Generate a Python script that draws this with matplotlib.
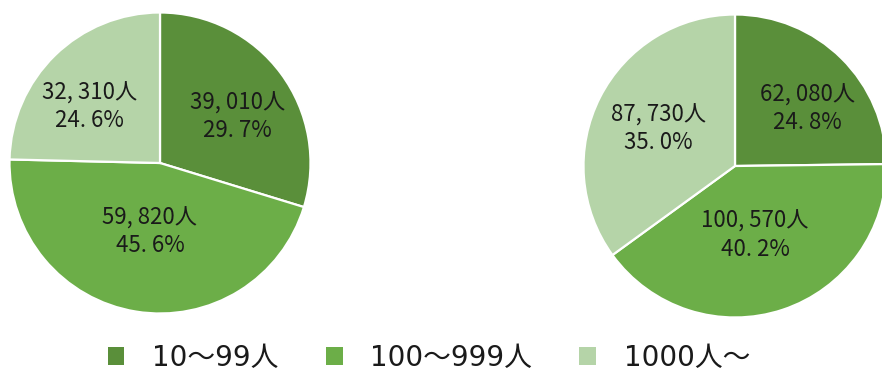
import numpy as np
import matplotlib
matplotlib.use("Agg")
import matplotlib.pyplot as plt
import matplotlib.patches as mpatches

plt.rcParams['font.family'] = ['Noto Sans CJK JP', 'DejaVu Sans']
label_font = ['Noto Sans CJK JP', 'DejaVu Sans']
legend_font = ['DejaVu Sans', 'Noto Sans CJK JP']

# Company size groups and employee counts
categories = ["10～99人", "100～999人", "1000人～"]
colors = ["#5a8f3a", "#6cae48", "#b5d4a8"]

left_counts = [39010, 59820, 32310]
left_pcts = [29.7, 45.6, 24.6]
right_counts = [62080, 100570, 87730]
right_pcts = [24.8, 40.2, 35.0]

# label placement inside each wedge: (radius fraction, angle shift in degrees)
left_label_pos = [(0.60, -5.5), (0.465, 0.9), (0.60, 7)]
right_label_pos = [(0.61, -7), (0.476, -2.3), (0.56, 1.3)]

W, H = 882, 372
fig = plt.figure(figsize=(W / 100, H / 100), dpi=100)


def draw_pie(rect, counts, pcts, label_pos):
    ax = fig.add_axes(rect)
    wedges, _ = ax.pie(pcts, colors=colors, startangle=90, counterclock=False,
                       radius=1.0,
                       wedgeprops=dict(edgecolor="white", linewidth=1.6))
    for w, c, p, (r, da) in zip(wedges, counts, pcts, label_pos):
        ang = np.deg2rad((w.theta1 + w.theta2) / 2 + da)
        txt = f"{c:,}".replace(",", ", ") + "人\n" + f"{p:.1f}".replace(".", ". ") + "%"
        ax.text(r * np.cos(ang), r * np.sin(ang), txt, ha="center", va="center",
                fontsize=16, family=label_font, color="#1a1a1a", linespacing=1.25)
    ax.set_xlim(-1.01, 1.01)
    ax.set_ylim(-1.01, 1.01)
    ax.set_aspect("equal")
    ax.axis("off")
    return ax


def px_rect(x0, y0, size):
    return [x0 / W, (H - y0 - size) / H, size / W, size / H]


draw_pie(px_rect(8, 11, 304), left_counts, left_pcts, left_label_pos)
draw_pie(px_rect(582, 13, 306), right_counts, right_pcts, right_label_pos)

handles = [mpatches.Patch(facecolor=c, edgecolor="none", label=l)
           for c, l in zip(colors, categories)]
fig.legend(handles=handles, loc="center", bbox_to_anchor=(429 / W, 1 - 358 / H),
           ncol=3, frameon=False, prop=dict(family=legend_font, size=20),
           handlelength=0.6, handleheight=0.6,
           handletextpad=1.0, columnspacing=1.7, labelcolor="#1a1a1a")

fig.savefig("out.png", dpi=100)
